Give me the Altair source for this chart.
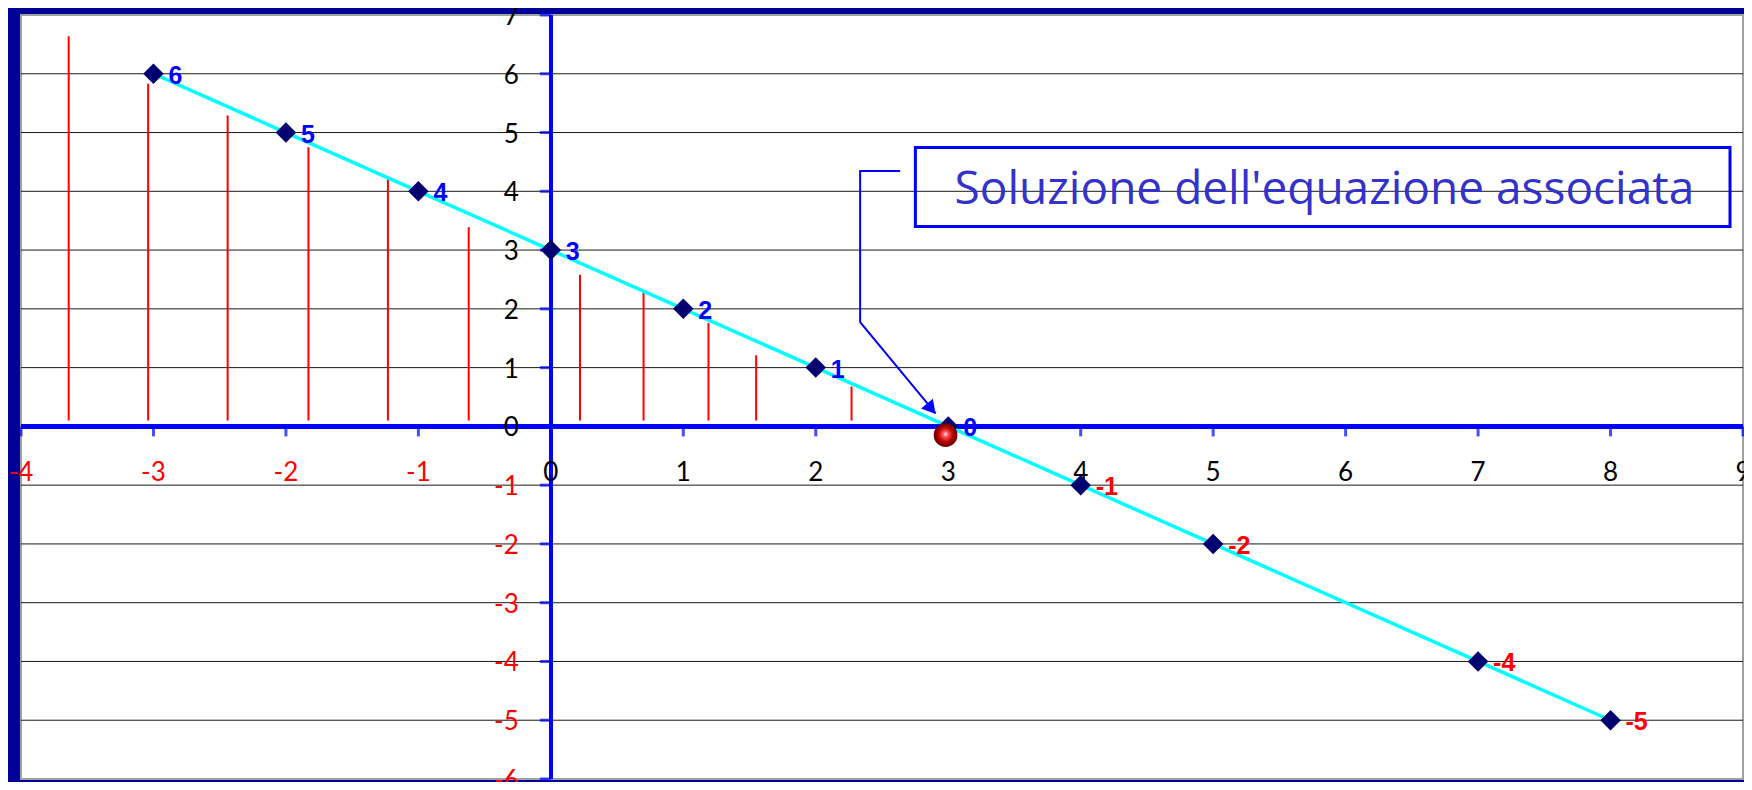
import altair as alt
import pandas as pd

# ---- data ----
pt_x = [-3, -2, -1, 0, 1, 2, 3, 4, 5, 7, 8]
pt_y = [6, 5, 4, 3, 2, 1, 0, -1, -2, -4, -5]
pt_label = ["6", "5", "4", "3", "2", "1", "0", "-1", "-2", "-4", "-5"]

stem_x = [-3.64, -3.04, -2.44, -1.83, -1.23, -0.62, 0.22, 0.70, 1.19, 1.55, 2.27]
stem_top = [6.64, 5.83, 5.29, 4.75, 4.21, 3.39, 2.58, 2.31, 1.76, 1.21, 0.68]
stem_base = [0.1] * len(stem_x)

x_ticks = list(range(-4, 10))
x_tick_labels = ["-4", "-3", "-2", "-1", "0", "1", "2", "3", "4", "5", "6", "7", "8", "9"]
y_ticks = list(range(-6, 8))
y_tick_labels = ["-6", "-5", "-4", "-3", "-2", "-1", "0", "1", "2", "3", "4", "5", "6", "7"]
grid_y = [-5, -4, -3, -2, -1, 1, 2, 3, 4, 5, 6]

solution_x = [2.98]
solution_y = [-0.15]

note_text = ["Soluzione dell'equazione associata"]
note_x = [5.84]
note_y = [3.78]
box_x = [2.752]
box_x2 = [8.902]
box_y = [3.403]
box_y2 = [4.747]

arrow_x = [2.637, 2.335, 2.335, 2.905]
arrow_y = [4.344, 4.344, 1.775, 0.221]
arrow_head_x = [2.872]
arrow_head_y = [0.30]

# ---- tables ----
pts = pd.DataFrame({"x": pt_x, "y": pt_y, "lab": pt_label})
stems = pd.DataFrame({"x": stem_x, "y": stem_base, "y2": stem_top})
xt = pd.DataFrame({"v": x_ticks, "lab": x_tick_labels})
yt = pd.DataFrame({"v": y_ticks, "lab": y_tick_labels})
grid = pd.DataFrame({"y": grid_y})
sol = pd.DataFrame({"x": solution_x, "y": solution_y})
note = pd.DataFrame({"t": note_text, "x": note_x, "y": note_y})
box = pd.DataFrame({"x": box_x, "x2": box_x2, "y": box_y, "y2": box_y2})
arrow = pd.DataFrame({"x": arrow_x, "y": arrow_y, "o": list(range(len(arrow_x)))})
head = pd.DataFrame({"x": arrow_head_x, "y": arrow_head_y})

XS = alt.Scale(domain=[-4, 9], nice=False, zero=False)
YS = alt.Scale(domain=[-6, 7], nice=False, zero=False)

BLUE = "#0000FF"
FONT = "Lato"

def X(f):
    return alt.X(f, type="quantitative", scale=XS, axis=None)

def Y(f):
    return alt.Y(f, type="quantitative", scale=YS, axis=None)

gridlines = alt.Chart(grid).mark_rule(color="#1a1a1a", strokeWidth=1).encode(y=Y("y"))

stem_layer = alt.Chart(stems).mark_rule(color="#FF0000", strokeWidth=2).encode(
    x=X("x"), y=Y("y"), y2="y2"
)

x_axis = alt.Chart(xt).mark_rule(color=BLUE, strokeWidth=3.5).encode(
    y=alt.Y(datum=0, scale=YS, axis=None)
)
y_axis = alt.Chart(yt).mark_rule(color=BLUE, strokeWidth=3.5).encode(
    x=alt.X(datum=0, scale=XS, axis=None)
)

x_tick_marks = alt.Chart(xt).mark_tick(
    color=BLUE, orient="vertical", size=10, thickness=3, yOffset=5
).encode(x=X("v"), y=alt.Y(datum=0, scale=YS, axis=None))

y_tick_marks = alt.Chart(yt).mark_tick(
    color=BLUE, orient="horizontal", size=11, thickness=3, xOffset=-5.5
).encode(y=Y("v"), x=alt.X(datum=0, scale=XS, axis=None))

x_labels = alt.Chart(xt).mark_text(
    font=FONT, fontSize=26, baseline="middle", align="center", dy=47
).encode(
    x=X("v"),
    y=alt.Y(datum=0, scale=YS, axis=None),
    text="lab:N",
    color=alt.condition("datum.v < 0", alt.value("#FF0000"), alt.value("#000000")),
)

y_labels = alt.Chart(yt).mark_text(
    font=FONT, fontSize=26, baseline="middle", align="right", dx=-32, dy=2
).encode(
    y=Y("v"),
    x=alt.X(datum=0, scale=XS, axis=None),
    text="lab:N",
    color=alt.condition("datum.v < 0", alt.value("#FF0000"), alt.value("#000000")),
)

line = alt.Chart(pts).mark_line(color="#00FFFF", strokeWidth=3.5).encode(
    x=X("x"), y=Y("y")
)

diamonds = alt.Chart(pts).mark_point(
    shape="diamond", filled=True, size=420, color="#000070", opacity=1
).encode(x=X("x"), y=Y("y"))

pt_labels = alt.Chart(pts).mark_text(
    font="Liberation Sans Narrow, Liberation Sans", fontWeight="bold", fontSize=25,
    align="left", baseline="middle", dx=15, dy=2
).encode(
    x=X("x"), y=Y("y"), text="lab:N",
    color=alt.condition("datum.y < 0", alt.value("#FF0000"), alt.value("#0000FF")),
)

sphere = alt.Chart(sol).mark_point(
    shape="circle", filled=True, size=560, opacity=1, strokeWidth=0,
    fill=alt.RadialGradient(
        gradient="radial",
        stops=[
            alt.GradientStop(offset=0, color="#FFFFFF"),
            alt.GradientStop(offset=0.18, color="#FF6060"),
            alt.GradientStop(offset=0.55, color="#C00000"),
            alt.GradientStop(offset=1, color="#500000"),
        ],
        x1=0.5, y1=0.45, r1=0, x2=0.5, y2=0.5, r2=0.55,
    ),
).encode(x=X("x"), y=Y("y"))

box_layer = alt.Chart(box).mark_rect(
    filled=False, stroke=BLUE, strokeWidth=3, fillOpacity=0
).encode(x=X("x"), x2="x2", y=Y("y"), y2="y2")

note_layer = alt.Chart(note).mark_text(
    font="Open Sans", fontSize=46, color="#3333CC", align="center", baseline="alphabetic"
).encode(x=X("x"), y=Y("y"), text="t:N")

arrow_line = alt.Chart(arrow).mark_line(color=BLUE, strokeWidth=2).encode(
    x=X("x"), y=Y("y"), order="o:Q"
)
arrow_head = alt.Chart(head).mark_point(
    shape="triangle-up", filled=True, size=240, color=BLUE, opacity=1, angle=140
).encode(x=X("x"), y=Y("y"))

chart = alt.layer(
    gridlines, stem_layer, x_axis, y_axis, x_tick_marks, y_tick_marks,
    x_labels, y_labels, line, diamonds, pt_labels, sphere,
    box_layer, note_layer, arrow_line, arrow_head,
).properties(
    width=1722,
    height=764,
    padding={"left": 13, "top": 7, "right": 1, "bottom": 3},
    autosize=alt.AutoSizeParams(type="none"),
    background="#000099",
).configure_view(fill="white", stroke="#A0A0A0", strokeWidth=2)

chart.save("out.html", embed_options={"renderer": "svg", "actions": False})
